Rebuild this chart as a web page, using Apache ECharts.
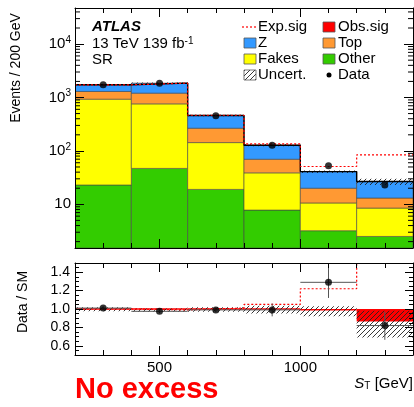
<!DOCTYPE html>
<html><head><meta charset="utf-8">
<script src="https://cdn.jsdelivr.net/npm/echarts@6/dist/echarts.min.js"></script>
<style>html,body{margin:0;padding:0;background:#fff}#c{width:414px;height:407px}</style>
</head><body><div id="c"></div>
<script>
// ---- data ----
const binLo = [200, 400, 600, 800, 1000, 1200];
const binHi = [400, 600, 800, 1000, 1200, 1400];
const otherBkg = [23, 47, 19, 7.8, 3.2, 2.5];
const fakesBkg = [907, 713, 124, 31, 7.4, 6.0];
const topBkg = [366, 445, 123, 31, 9.4, 4.6];
const zBkg = [432, 653, 194, 58, 21, 13.6];
const dataEv = [1730, 1850, 455, 128, 53, 23];
const expSig = [1728, 1858, 465, 135, 51, 84];
const uncLo = [1680, 1810, 445, 122, 38.5, 23];
const uncHi = [1780, 1910, 475, 133, 43, 30];
const ratioData = [1.01, 0.975, 0.99, 0.99, 1.29, 0.82];
const ratioErrLo = [0.99, 0.955, 0.965, 0.92, 1.12, 0.665];
const ratioErrHi = [1.03, 0.995, 1.015, 1.06, 1.48, 0.97];
const ratioExpSig = [1.0, 0.99, 1.01, 1.05, 1.22, 3.0];
const ratioObsSig = [1.0, 1.0, 1.0, 1.0, 0.985, 0.865];
const ratioUncLo = [0.975, 0.97, 0.97, 0.95, 0.92, 0.69];
const ratioUncHi = [1.02, 1.005, 1.02, 1.035, 1.03, 0.98];
const xMajorTicks = [500, 1000];
const xMinorTicks = [300, 400, 600, 700, 800, 900, 1100, 1200, 1300];
const rMajorTicks = [0.6, 0.8, 1.0, 1.2, 1.4];
const rMinorTicks = [0.55, 0.65, 0.7, 0.75, 0.85, 0.9, 0.95, 1.05, 1.1, 1.15, 1.25, 1.3, 1.35, 1.45];
const logMinorTicks = [2, 3, 4, 5, 6, 7, 8, 9, 20, 30, 40, 50, 60, 70, 80, 90, 200, 300, 400, 500, 600, 700, 800, 900, 2000, 3000, 4000, 5000, 6000, 7000, 8000, 9000, 20000, 30000, 40000];

const FONT = '"Liberation Sans", Arial, sans-serif';
const Y_MIN = 1.52, Y_MAX = 47400;
const COLORS = {other: '#33cc00', fakes: '#ffff00', top: '#ff9933', z: '#3399ff', red: '#ff0000'};

function hatchPattern() {
  const c = document.createElement('canvas');
  c.width = 5; c.height = 5;
  const g = c.getContext('2d');
  g.strokeStyle = '#222'; g.lineWidth = 0.9;
  g.beginPath();
  g.moveTo(0, 5); g.lineTo(5, 0);
  g.moveTo(-1, 1); g.lineTo(1, -1);
  g.moveTo(4, 6); g.lineTo(6, 4);
  g.stroke();
  return {image: c, repeat: 'repeat'};
}
const HATCH = hatchPattern();

function rectSeries(data, style, xi, yi, z, minH) {
  return {
    type: 'custom', xAxisIndex: xi, yAxisIndex: yi, z: z, clip: true, silent: true,
    encode: {x: [0, 1], y: [2, 3]}, data: data,
    renderItem(params, api) {
      const p0 = api.coord([api.value(0), api.value(2)]);
      const p1 = api.coord([api.value(1), api.value(3)]);
      const x = Math.min(p0[0], p1[0]);
      let y = Math.min(p0[1], p1[1]);
      let h = Math.abs(p1[1] - p0[1]);
      if (minH && h < minH) { y -= (minH - h) / 2; h = minH; }
      return {type: 'rect', shape: {x: x, y: y, width: Math.abs(p1[0] - p0[0]), height: h}, style: Object.assign({}, style)};
    }
  };
}

// stacked backgrounds
const comps = [
  {vals: otherBkg, color: COLORS.other},
  {vals: fakesBkg, color: COLORS.fakes},
  {vals: topBkg, color: COLORS.top},
  {vals: zBkg, color: COLORS.z}
];
const cum = binLo.map(() => 0);
const series = [];
comps.forEach((c, k) => {
  const d = binLo.map((lo, i) => {
    const b = cum[i] === 0 ? Y_MIN : cum[i];
    cum[i] += c.vals[i];
    return [lo, binHi[i], b, cum[i]];
  });
  series.push(rectSeries(d, {fill: c.color, stroke: 'rgba(70,70,70,0.75)', lineWidth: 0.8}, 0, 0, 2 + k * 0.01));
});
function stepData(vals) {
  const d = binLo.map((lo, i) => [lo, vals[i]]);
  d.push([binHi[binHi.length - 1], vals[vals.length - 1]]);
  return d;
}
// uncertainty band (top)
series.push(rectSeries(binLo.map((lo, i) => [lo, binHi[i], uncLo[i], uncHi[i]]), {fill: HATCH}, 0, 0, 3));
// total SM outline
series.push({type: 'line', xAxisIndex: 0, yAxisIndex: 0, step: 'end', data: stepData(cum), symbol: 'none', silent: true, z: 4,
  lineStyle: {color: '#000', width: 1.4}});
// expected signal
series.push({type: 'line', xAxisIndex: 0, yAxisIndex: 0, step: 'end', data: stepData(expSig), symbol: 'none', silent: true, z: 5,
  lineStyle: {color: COLORS.red, width: 1.2, type: [2, 2]}});
// data
series.push({type: 'scatter', xAxisIndex: 0, yAxisIndex: 0, z: 6, silent: true, symbol: 'circle', symbolSize: 7,
  itemStyle: {color: '#000'}, data: binLo.map((lo, i) => [(lo + binHi[i]) / 2, dataEv[i]])});
// log minor ticks (left & right)
series.push({type: 'custom', xAxisIndex: 0, yAxisIndex: 0, z: 20, silent: true, clip: false,
  encode: {x: [0, 1], y: 2},
  data: logMinorTicks.map(v => [200, 1400, v]),
  renderItem(params, api) {
    const a = api.coord([api.value(0), api.value(2)]);
    const b = api.coord([api.value(1), api.value(2)]);
    return {type: 'group', children: [
      {type: 'line', shape: {x1: a[0], y1: a[1], x2: a[0] + 5, y2: a[1]}, style: {stroke: '#000', lineWidth: 1}},
      {type: 'line', shape: {x1: b[0], y1: b[1], x2: b[0] - 5, y2: b[1]}, style: {stroke: '#000', lineWidth: 1}}
    ]};
  }});

// ratio panel
series.push(rectSeries(binLo.map((lo, i) => [lo, binHi[i], Math.min(1, ratioObsSig[i]), Math.max(1, ratioObsSig[i])]),
  {fill: COLORS.red}, 4, 2, 2, 1.6));
series.push(rectSeries(binLo.map((lo, i) => [lo, binHi[i], ratioUncLo[i], ratioUncHi[i]]), {fill: HATCH}, 4, 2, 3));
series.push({type: 'line', xAxisIndex: 4, yAxisIndex: 2, step: 'end', data: stepData(ratioExpSig), symbol: 'none', silent: true, z: 4,
  lineStyle: {color: COLORS.red, width: 1.2, type: [2, 2]}});
series.push({type: 'custom', xAxisIndex: 4, yAxisIndex: 2, z: 5, silent: true, clip: true,
  encode: {x: [0, 1], y: [2, 3, 4]},
  data: binLo.map((lo, i) => [lo, binHi[i], ratioData[i], ratioErrLo[i], ratioErrHi[i]]),
  renderItem(params, api) {
    const xl = api.value(0), xh = api.value(1), yv = api.value(2);
    const a = api.coord([xl, yv]), b = api.coord([xh, yv]);
    const c = api.coord([(xl + xh) / 2, api.value(3)]), d = api.coord([(xl + xh) / 2, api.value(4)]);
    const st = {stroke: '#555', lineWidth: 1};
    return {type: 'group', children: [
      {type: 'line', shape: {x1: a[0], y1: a[1], x2: b[0], y2: b[1]}, style: Object.assign({}, st)},
      {type: 'line', shape: {x1: c[0], y1: c[1], x2: d[0], y2: d[1]}, style: Object.assign({}, st)}
    ]};
  }});
series.push({type: 'scatter', xAxisIndex: 4, yAxisIndex: 2, z: 6, silent: true, symbol: 'circle', symbolSize: 7,
  itemStyle: {color: '#000'}, data: binLo.map((lo, i) => [(lo + binHi[i]) / 2, ratioData[i]])});

// axes
function xAx(grid, pos, vals, len, labels, line) {
  return {type: 'value', gridIndex: grid, position: pos, min: 200, max: 1400, z: 10,
    axisLine: {show: !!line, onZero: false, lineStyle: {color: '#000', width: 1}},
    splitLine: {show: false},
    axisTick: {show: true, inside: true, length: len, customValues: vals, lineStyle: {color: '#000', width: 1}},
    axisLabel: labels ? {show: true, customValues: vals, fontSize: 15, color: '#000', margin: 5, fontFamily: FONT,
      formatter: v => String(Math.round(v))} : {show: false}};
}
function rAx(pos, vals, len, labels, line) {
  return {type: 'value', gridIndex: 1, position: pos, min: 0.5, max: 1.5, z: 10,
    axisLine: {show: !!line, onZero: false, lineStyle: {color: '#000', width: 1}},
    splitLine: {show: false},
    axisTick: {show: true, inside: true, length: len, customValues: vals, lineStyle: {color: '#000', width: 1}},
    axisLabel: labels ? {show: true, customValues: vals, fontSize: 14, color: '#000', margin: 5, fontFamily: FONT,
      formatter: v => Number(v).toFixed(1)} : {show: false}};
}
function logLabel(v) {
  const e = Math.round(Math.log10(v));
  if (Math.abs(v - Math.pow(10, e)) > 1e-6 * v || e < 1) return '';
  return e === 1 ? '{b|10}' : '{b|10}{s|' + e + '}';
}
function yLog(pos, labels) {
  return {type: 'log', logBase: 10, gridIndex: 0, position: pos, min: Y_MIN, max: Y_MAX, z: 10,
    axisLine: {show: true, onZero: false, lineStyle: {color: '#000', width: 1}},
    splitLine: {show: false}, minorTick: {show: false},
    axisTick: {show: true, inside: true, length: 9, lineStyle: {color: '#000', width: 1}},
    axisLabel: labels ? {show: true, margin: 4, formatter: logLabel, color: '#000',
      rich: {b: {fontSize: 15, fontFamily: FONT, color: '#000', lineHeight: 18},
             s: {fontSize: 10, fontFamily: FONT, color: '#000', lineHeight: 10, verticalAlign: 'top'}}} : {show: false}};
}

const txt = (x, y, text, extra, rot) => ({type: 'text', x: x, y: y, rotation: rot || 0, silent: true,
  style: Object.assign({text: text, fill: '#000', font: '15px ' + FONT, verticalAlign: 'middle', align: 'left'}, extra || {})});
const box = (x, y, fill) => ({type: 'rect', silent: true, shape: {x: x, y: y - 5, width: 12, height: 10},
  style: {fill: fill, stroke: '#555', lineWidth: 0.8}});

const graphic = [
  txt(92, 27, 'ATLAS', {font: 'italic bold 15px ' + FONT}),
  {type: 'text', x: 92, y: 44, silent: true, style: {text: '13 TeV 139 fb{s|-1}', fill: '#000', font: '15px ' + FONT,
    verticalAlign: 'middle', rich: {s: {fontSize: 10, fontFamily: FONT, verticalAlign: 'top', lineHeight: 10}}}},
  txt(92, 60, 'SR'),
  {type: 'line', silent: true, shape: {x1: 242, y1: 27, x2: 256, y2: 27}, style: {stroke: COLORS.red, lineWidth: 1.2, lineDash: [2, 2]}},
  txt(258, 27, 'Exp.sig'),
  box(244, 43, COLORS.z), txt(258, 43, 'Z'),
  box(244, 59, COLORS.fakes), txt(258, 59, 'Fakes'),
  box(244, 75, HATCH), txt(258, 75, 'Uncert.'),
  box(323, 27, COLORS.red), txt(338, 27, 'Obs.sig'),
  box(323, 43, COLORS.top), txt(338, 43, 'Top'),
  box(323, 59, COLORS.other), txt(338, 59, 'Other'),
  {type: 'circle', silent: true, shape: {cx: 329, cy: 75, r: 2.5}, style: {fill: '#000'}},
  txt(338, 75, 'Data'),
  txt(16, 68, 'Events / 200 GeV', {font: '14px ' + FONT, align: 'center'}, Math.PI / 2),
  txt(23, 302, 'Data / SM', {font: '14px ' + FONT, align: 'center'}, Math.PI / 2),
  {type: 'text', x: 413, y: 384, silent: true, style: {text: '{i|S}{sub|T} [GeV]', fill: '#000', font: '15px ' + FONT,
    align: 'right', verticalAlign: 'middle',
    rich: {i: {fontStyle: 'italic', fontSize: 15, fontFamily: FONT}, sub: {fontSize: 10, fontFamily: FONT, verticalAlign: 'bottom', lineHeight: 10}}}},
  txt(75, 390, 'No excess', {font: 'bold 29px ' + FONT, fill: '#ff0000'})
];

const chart = echarts.init(document.getElementById('c'), null, {renderer: 'canvas'});
chart.setOption({
  animation: false,
  backgroundColor: '#fff',
  textStyle: {fontFamily: FONT},
  grid: [
    {left: 75, top: 8, width: 338, height: 240, show: false, containLabel: false},
    {left: 75, top: 263, width: 338, height: 92, show: false, containLabel: false}
  ],
  xAxis: [
    xAx(0, 'bottom', xMajorTicks, 9, false, true),
    xAx(0, 'bottom', xMinorTicks, 5, false, false),
    xAx(0, 'top', xMajorTicks, 9, false, true),
    xAx(0, 'top', xMinorTicks, 5, false, false),
    xAx(1, 'bottom', xMajorTicks, 9, true, true),
    xAx(1, 'bottom', xMinorTicks, 5, false, false),
    xAx(1, 'top', xMajorTicks, 9, false, true),
    xAx(1, 'top', xMinorTicks, 5, false, false)
  ],
  yAxis: [
    yLog('left', true),
    yLog('right', false),
    rAx('left', rMajorTicks, 8, true, true),
    rAx('left', rMinorTicks, 4, false, false),
    rAx('right', rMajorTicks, 8, false, true),
    rAx('right', rMinorTicks, 4, false, false)
  ],
  series: series,
  graphic: graphic
});
</script>
</body></html>
